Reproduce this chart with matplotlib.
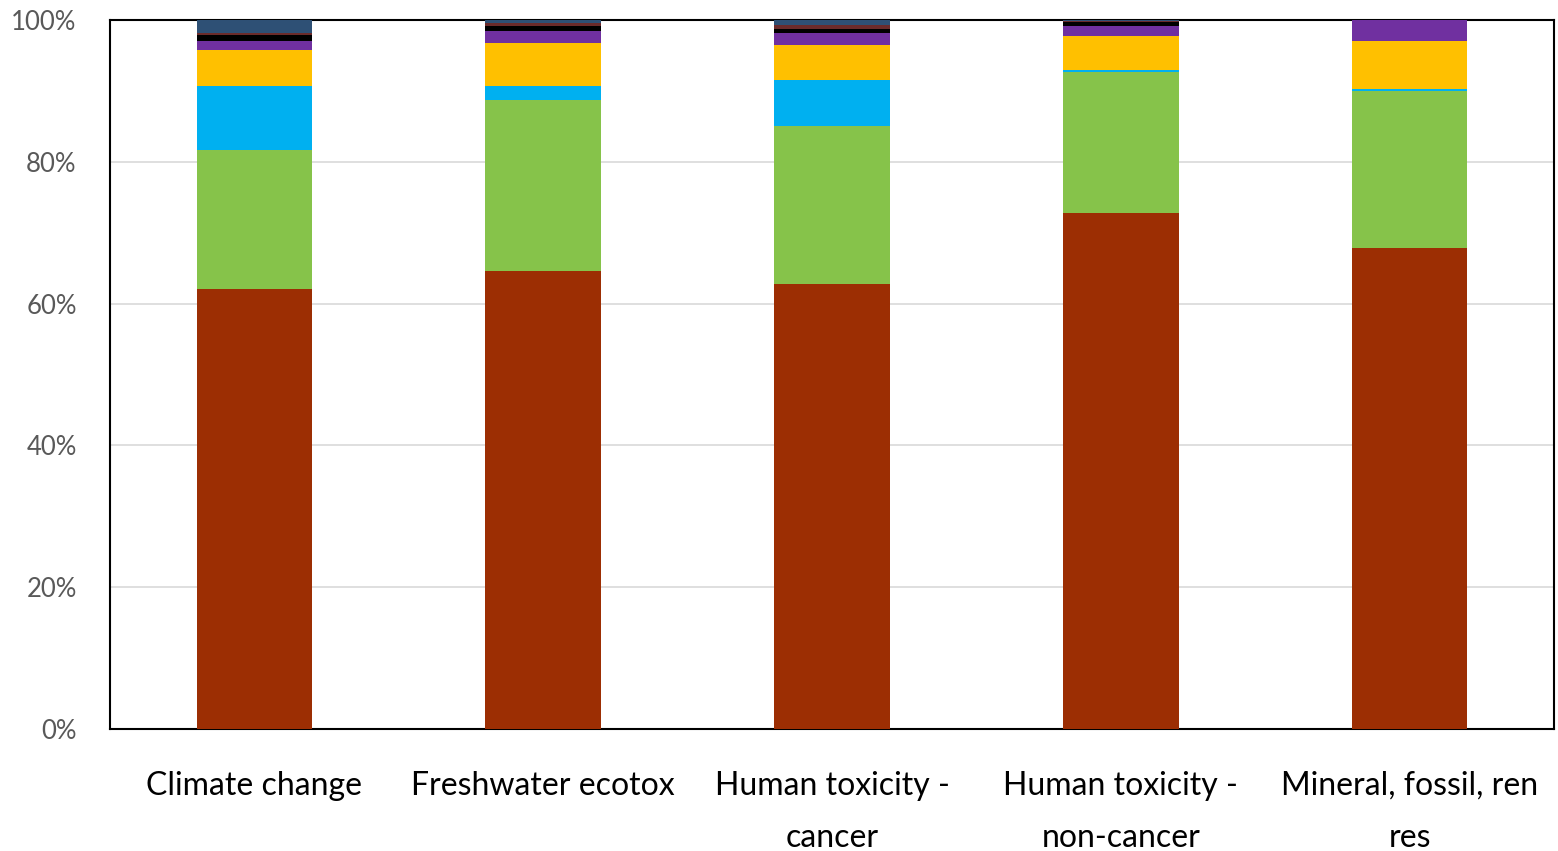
import matplotlib.pyplot as plt
import numpy as np

categories = ['Climate change', 'Freshwater ecotox', 'Human toxicity -\ncancer',
              'Human toxicity -\nnon-cancer', 'Mineral, fossil, ren\nres']

# stacked shares in %, bottom to top
s_red = [62.1, 64.6, 62.8, 72.8, 67.8]
s_green = [19.6, 24.1, 22.2, 19.8, 22.2]
s_cyan = [9.0, 2.0, 6.5, 0.4, 0.3]
s_yellow = [5.0, 6.1, 5.0, 4.8, 6.7]
s_purple = [1.4, 1.6, 1.7, 1.4, 3.0]
s_black = [0.8, 0.75, 0.6, 0.5, 0.0]
s_brown = [0.2, 0.4, 0.5, 0.15, 0.0]
s_blue = [1.9, 0.55, 0.7, 0.15, 0.0]

series = [s_red, s_green, s_cyan, s_yellow, s_purple, s_black, s_brown, s_blue]
colors = ['#9C2E03', '#86C34A', '#00B0F0', '#FFC000', '#7030A0', '#000000', '#6B2B2B', '#2E5075']

plt.rcParams['font.family'] = ['Lato', 'DejaVu Sans']

fig = plt.figure(figsize=(15.58, 8.51), dpi=100)
ax = fig.add_axes([110 / 1558, 1 - 729 / 851, 1444 / 1558, 709 / 851])

x = np.arange(len(categories))
bottom = np.zeros(len(categories))
for vals, c in zip(series, colors):
    ax.bar(x, vals, width=0.4, bottom=bottom, color=c, zorder=3)
    bottom += np.array(vals)

ax.set_xlim(-0.5, 4.5)
ax.set_ylim(0, 100)
ax.set_yticks(range(0, 101, 20))
ax.set_yticklabels(['%d%%' % v for v in range(0, 101, 20)], fontsize=18.5, color='#595959')
ax.set_xticks(x)
ax.set_xticklabels(categories, fontsize=23, linespacing=1.95, va='top')
ax.tick_params(axis='both', length=0)
ax.tick_params(axis='x', pad=30)
ax.tick_params(axis='y', pad=24)
ax.yaxis.grid(True, color='#D9D9D9', linewidth=1.2, zorder=0)
for sp in ax.spines.values():
    sp.set_color('black')
    sp.set_linewidth(1.5)

fig.savefig('out.png', dpi=100)
